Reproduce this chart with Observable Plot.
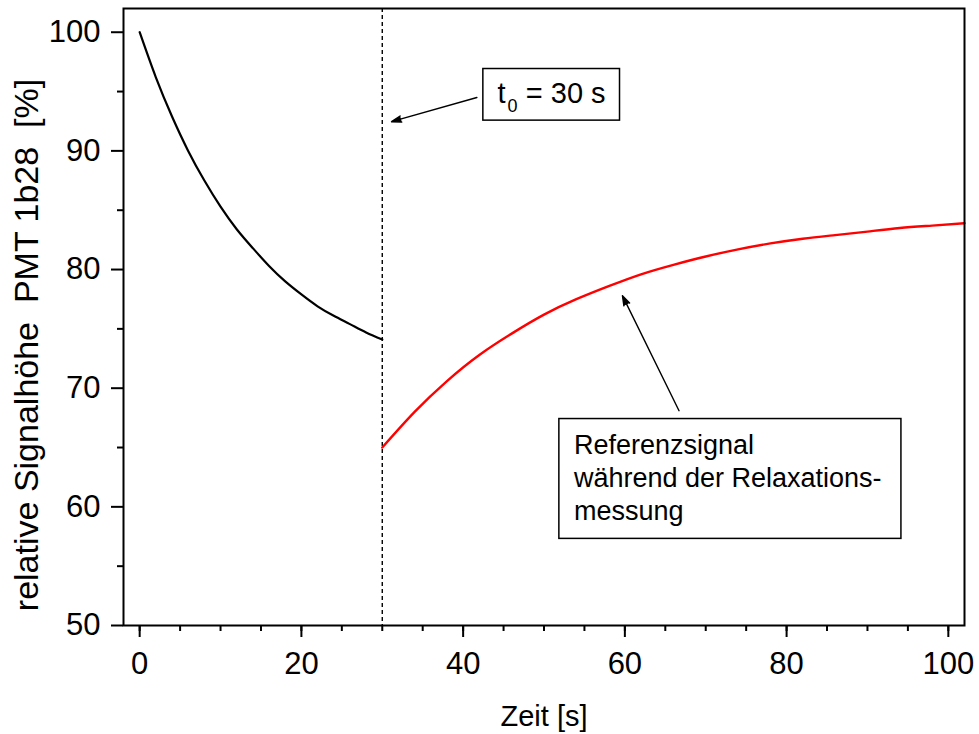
<!DOCTYPE html>
<html>
<head>
<meta charset="utf-8">
<script src="https://cdn.jsdelivr.net/npm/d3@7"></script>
<script src="https://cdn.jsdelivr.net/npm/@observablehq/plot@0.6"></script>
<style>
  body { margin: 0; background: #fff; }
  svg { display: block; }
  svg text { white-space: pre; }
</style>
</head>
<body>
<div id="chart"></div>
<script>
// --- data ---
const timeBefore   = [0, 2, 4, 6, 8, 10, 12, 14, 16, 18, 20, 22, 24, 26, 28, 30];
const signalBefore = [100, 96.2, 92.9, 90.0, 87.5, 85.3, 83.4, 81.8, 80.3, 79.0, 77.9, 76.9, 76.1, 75.4, 74.7, 74.1];
const timeAfter    = [30, 34, 38, 42, 46, 50, 54, 58, 62, 66, 70, 74, 78, 82, 86, 90, 94, 98, 102];
const signalAfter  = [65.0, 68.0, 70.6, 72.8, 74.6, 76.2, 77.5, 78.6, 79.6, 80.4, 81.1, 81.7, 82.2, 82.6, 82.9, 83.2, 83.5, 83.7, 83.9];

const xMajorTicks = [0, 20, 40, 60, 80, 100];
const xMinorTicks = [0, 5, 10, 15, 20, 25, 30, 35, 40, 45, 50, 55, 60, 65, 70, 75, 80, 85, 90, 95, 100];
const yMajorTicks = [50, 60, 70, 80, 90, 100];
const yMinorTicks = [55, 65, 75, 85, 95];
const xDomain = [-2, 102];
const yDomain = [50, 102];
const t0 = 30;

const xLabel = "Zeit [s]";
const yLabel = "relative Signalhöhe  PMT 1b28  [%]";

// annotations (data units)
const boxX1 = [42.5, 51.9];
const boxX2 = [59.4, 94.2];
const boxY1 = [92.55, 57.3];
const boxY2 = [96.9, 67.4];
const arrowFromX = [41.7, 66.7];
const arrowFromY = [94.5, 68.1];
const arrowToX   = [31.15, 59.7];
const arrowToY   = [92.46, 77.8];
const t0Label = {x: 44.25, y: 94.03, t: "t", sub: "0", rest: "= 30 s"};
const noteLabel = {x: 53.7, y: 58.9, text: "Referenzsignal\nwährend der Relaxations-\nmessung"};

// --- tables ---
const before = timeBefore.map((t, i) => ({t, v: signalBefore[i]}));
const after = timeAfter.map((t, i) => ({t, v: signalAfter[i]}));
const boxes = boxX1.map((x1, i) => ({x1, x2: boxX2[i], y1: boxY1[i], y2: boxY2[i]}));
const arrows = arrowFromX.map((x1, i) => ({x1, y1: arrowFromY[i], x2: arrowToX[i], y2: arrowToY[i]}));

const font = "'Liberation Sans', Arial, Helvetica, sans-serif";

const chart = Plot.plot({
  width: 979,
  height: 734,
  marginLeft: 123,
  marginRight: 15,
  marginTop: 8,
  marginBottom: 109,
  style: {fontFamily: font, background: "#fff", color: "#000", overflow: "visible"},
  x: {domain: xDomain},
  y: {domain: yDomain},
  marks: [
    Plot.axisX({ticks: xMinorTicks, tickSize: 6, tickFormat: () => "", label: null, strokeWidth: 2}),
    Plot.axisX({ticks: xMajorTicks, tickSize: 12, tickPadding: 14, fontSize: 31, label: null, strokeWidth: 2}),
    Plot.axisY({ticks: yMinorTicks, tickSize: 6, tickFormat: () => "", label: null, strokeWidth: 2}),
    Plot.axisY({ticks: yMajorTicks, tickSize: 12, tickPadding: 11, fontSize: 31, label: null, strokeWidth: 2}),
    Plot.ruleX([t0], {stroke: "#000", strokeWidth: 1.4, strokeDasharray: "4,3"}),
    Plot.line(before, {x: "t", y: "v", stroke: "#000", strokeWidth: 2.2, curve: "natural"}),
    Plot.line(after, {x: "t", y: "v", stroke: "#ff0000", strokeWidth: 2.4, curve: "natural"}),
    Plot.arrow(arrows, {x1: "x1", y1: "y1", x2: "x2", y2: "y2", stroke: "#000", fill: "#000", strokeWidth: 1.4, headLength: 11, headAngle: 36}),
    Plot.rect(boxes, {x1: "x1", x2: "x2", y1: "y1", y2: "y2", fill: "#fff", stroke: "#000", strokeWidth: 1.5}),
    Plot.text([t0Label], {x: "x", y: "y", text: "t", textAnchor: "start", lineAnchor: "bottom", fontSize: 29, fill: "#000"}),
    Plot.text([t0Label], {x: "x", y: "y", text: "sub", textAnchor: "start", lineAnchor: "bottom", fontSize: 18, dx: 10, dy: 9.4, fill: "#000"}),
    Plot.text([t0Label], {x: "x", y: "y", text: "rest", textAnchor: "start", lineAnchor: "bottom", fontSize: 29, dx: 28.3, fill: "#000"}),
    Plot.text([noteLabel], {x: "x", y: "y", text: "text", textAnchor: "start", lineAnchor: "bottom", fontSize: 27, lineHeight: 1.22, fill: "#000"}),
    Plot.text([xLabel], {frameAnchor: "bottom", dy: 100, textAnchor: "middle", lineAnchor: "bottom", fontSize: 29, fill: "#000"}),
    Plot.text([yLabel], {frameAnchor: "left", rotate: -90, dx: -86, dy: 28, textAnchor: "middle", lineAnchor: "bottom", fontSize: 34, fill: "#000"}),
    Plot.frame({stroke: "#000", strokeWidth: 2})
  ]
});
document.getElementById("chart").appendChild(chart);
</script>
</body>
</html>
